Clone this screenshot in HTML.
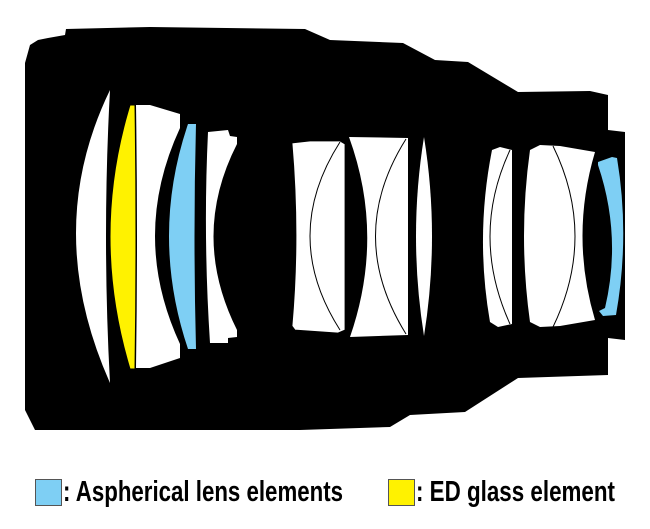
<!DOCTYPE html>
<html><head><meta charset="utf-8"><style>html,body{margin:0;padding:0;background:#fff}svg{display:block}</style></head><body>
<svg width="650" height="529" viewBox="0 0 650 529" xmlns="http://www.w3.org/2000/svg">
<path fill="#000" d="M66,29 L150,27 L305,29 L330,40 L403,43 L435,60 L468,62 L518,92 L590,91 L608,95 L608,130 L625,132 L625,340 L608,338 L608,375 L518,378 L465,412 L410,415 L390,427 L300,430 L150,430 L35,430 L30,420 L25,410 L25,63 L30,45 L38,40 L48,38 L65,35 Z"/>
<path fill="#fff" d="M110,90 Q42,230 110,383 Q102,236 110,90 Z"/>
<path fill="#fff200" stroke="#000" stroke-width="1" d="M130,105 L135,105 Q137,236 135,369 L130,369 Q90,236 130,105 Z"/>
<path fill="#fff" d="M136,105 L150,105 L180,114 L180,128 Q130,236 180,344 L180,358 L150,368 L136,368 Q138,236 136,105 Z"/>
<path fill="#7ecff4" d="M188,124 L196,124 Q193,236 196,349 L188,349 Q150,236 188,124 Z"/>
<path fill="#fff" d="M208,132 L228,130 L230,136 L237,137 L237,144 Q190,236 237,330 L237,337 L228,338 L228,343 L210,343 Q203,236 208,132 Z"/>
<path fill="#fff" stroke="#000" stroke-width="0.8" d="M292,143 L310,141 L340,141 L345,144 L345,330 L338,333 L295,330 L292,326 Q300,236 292,143 Z"/>
<path fill="none" stroke="#000" stroke-width="1" d="M340,142 Q280,236 340,330"/>
<path fill="#fff" d="M349,137 L408,138 L408,335 L350,337 Q385,236 349,137 Z"/>
<path fill="none" stroke="#000" stroke-width="1" d="M406,139 Q345,236 406,334"/>
<path fill="#fff" d="M424,137 Q440,236 424,336 Q408,236 424,137 Z"/>
<path fill="#fff" d="M492,150 L500,147 L512,150 L512,324 L498,327 L490,322 Q475,236 492,150 Z"/>
<path fill="none" stroke="#000" stroke-width="1" d="M510,150 Q470,236 510,324"/>
<path fill="#fff" d="M530,150 L540,145 L560,146 L595,152 Q570,236 595,320 L560,326 L540,327 L530,322 Q518,236 530,150 Z"/>
<path fill="none" stroke="#000" stroke-width="1" d="M553,146 Q597,236 553,327"/>
<path fill="#7ecff4" d="M598,162 L612,157 L617,158 Q630,236 616,315 L603,316 L599,311 L605,308 Q622,236 598,165 Z"/>
<rect x="35.5" y="479.5" width="26" height="26" fill="#7ecff4" stroke="#555" stroke-width="1"/>
<rect x="388.5" y="479.5" width="26" height="26" fill="#fff200" stroke="#555" stroke-width="1"/>
<text x="63" y="501" font-family="Liberation Sans, sans-serif" font-weight="bold" font-size="29" textLength="280" lengthAdjust="spacingAndGlyphs" fill="#000">: Aspherical lens elements</text>
<text x="416" y="501" font-family="Liberation Sans, sans-serif" font-weight="bold" font-size="29" textLength="199" lengthAdjust="spacingAndGlyphs" fill="#000">: ED glass element</text>
</svg>
</body></html>
